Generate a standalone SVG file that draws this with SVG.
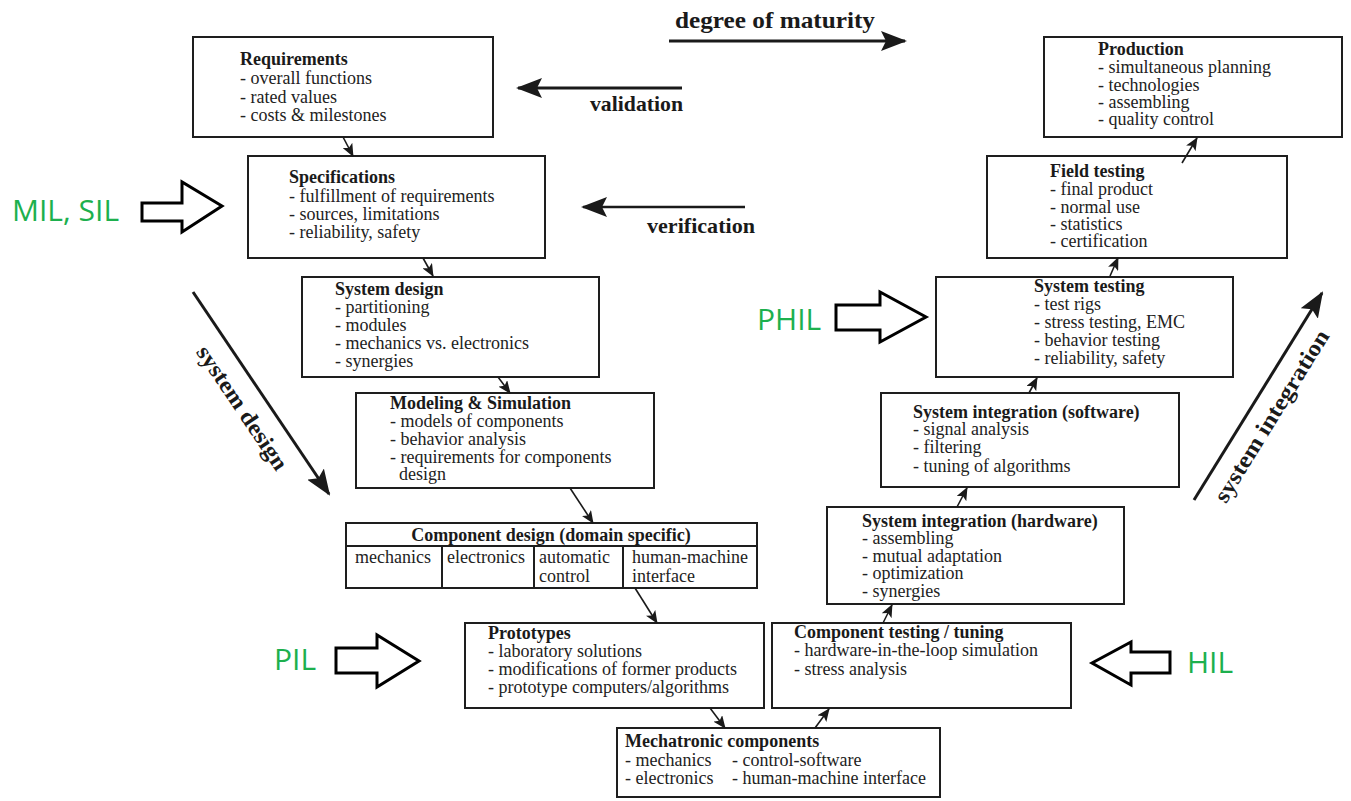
<svg xmlns="http://www.w3.org/2000/svg" width="1351" height="801" viewBox="0 0 1351 801">
  <style>
    .box { fill: #ffffff; stroke: #1e1e1e; stroke-width: 2; }
    .t { font-family: "Liberation Serif", "Times New Roman", serif; font-size: 18px; fill: #222222; }
    .tb { font-family: "Liberation Serif", "Times New Roman", serif; font-size: 18px; font-weight: bold; fill: #1a1a1a; }
    .big { font-family: "Liberation Serif", "Times New Roman", serif; font-weight: bold; fill: #1a1a1a; }
    .lvl { font-family: "Open Sans", "Noto Sans", sans-serif; font-size: 30px; fill: #1db04e; }
    .conn { stroke: #1a1a1a; stroke-width: 1.6; fill: none; marker-end: url(#head-s); }
    .flow { stroke: #1a1a1a; stroke-width: 3; fill: none; marker-end: url(#head-b); }
    .block { fill: #ffffff; stroke: #000000; stroke-width: 3; stroke-linejoin: miter; }
  </style>
  <defs>
    <marker id="head-s" markerUnits="userSpaceOnUse" markerWidth="13" markerHeight="11" refX="12" refY="5.5" orient="auto">
      <path d="M0,0 L13,5.5 L0,11 L3,5.5 z" fill="#1a1a1a"/>
    </marker>
    <marker id="head-b" markerUnits="userSpaceOnUse" markerWidth="26" markerHeight="20" refX="24" refY="10" orient="auto">
      <path d="M0,0 L26,10 L0,20 L5,10 z" fill="#1a1a1a"/>
    </marker>
  </defs>

  <!-- phase arrows and their captions -->
  <g id="phase-arrows">
    <line class="flow" x1="669" y1="41" x2="905" y2="41"/>
    <text class="big" x="675" y="28" font-size="24" textLength="200" lengthAdjust="spacingAndGlyphs">degree of maturity</text>
    <line class="flow" x1="682" y1="88" x2="518" y2="88"/>
    <text class="big" x="590" y="111" font-size="22" textLength="93" lengthAdjust="spacingAndGlyphs">validation</text>
    <line class="flow" x1="745" y1="207" x2="583" y2="207" style="stroke-width:2.5"/>
    <text class="big" x="647" y="233" font-size="22" textLength="108" lengthAdjust="spacingAndGlyphs">verification</text>
    <line class="flow" x1="193" y1="292" x2="329" y2="494"/>
    <text class="big" font-size="23" text-anchor="middle" transform="translate(236,412) rotate(56)" textLength="145" lengthAdjust="spacingAndGlyphs">system design</text>
    <line class="flow" x1="1194" y1="500" x2="1322" y2="293"/>
    <text class="big" font-size="23" text-anchor="middle" transform="translate(1278,420) rotate(-58.3)" textLength="198" lengthAdjust="spacingAndGlyphs">system integration</text>
  </g>

  <!-- test level labels with hollow block arrows -->
  <g id="mil-sil">
    <text class="lvl" x="12" y="221">MIL, SIL</text>
    <path class="block" d="M142,203 L182,203 L182,182 L222,206 L182,232 L182,221 L142,221 z"/>
  </g>
  <g id="phil">
    <text class="lvl" x="757" y="330">PHIL</text>
    <path class="block" d="M836,305 L880,305 L880,292 L926,317 L880,342 L880,330 L836,330 z"/>
  </g>
  <g id="pil">
    <text class="lvl" x="274" y="670">PIL</text>
    <path class="block" d="M336,648 L377,648 L377,635 L419,661 L377,687 L377,673 L336,673 z"/>
  </g>
  <g id="hil">
    <text class="lvl" x="1187" y="673">HIL</text>
    <path class="block" d="M1170,652 L1131,652 L1131,642 L1092,663 L1131,685 L1131,673 L1170,673 z"/>
  </g>

  <!-- left branch of the V -->
  <g id="requirements">
    <rect class="box" x="193" y="37" width="300" height="100"/>
    <text class="tb" x="240" y="65">Requirements</text>
    <text class="t" x="240" y="84">- overall functions</text>
    <text class="t" x="240" y="103">- rated values</text>
    <text class="t" x="240" y="121">- costs &amp; milestones</text>
  </g>
  <g id="specifications">
    <rect class="box" x="248" y="156" width="297" height="102"/>
    <text class="tb" x="289" y="183">Specifications</text>
    <text class="t" x="289" y="202">- fulfillment of requirements</text>
    <text class="t" x="289" y="220">- sources, limitations</text>
    <text class="t" x="289" y="238">- reliability, safety</text>
  </g>
  <g id="system-design">
    <rect class="box" x="302" y="277" width="297" height="100"/>
    <text class="tb" x="335" y="295">System design</text>
    <text class="t" x="335" y="313">- partitioning</text>
    <text class="t" x="335" y="331">- modules</text>
    <text class="t" x="335" y="349">- mechanics vs. electronics</text>
    <text class="t" x="335" y="367">- synergies</text>
  </g>
  <g id="modeling-simulation">
    <rect class="box" x="356" y="393" width="298" height="95"/>
    <text class="tb" x="390" y="409">Modeling &amp; Simulation</text>
    <text class="t" x="390" y="427">- models of components</text>
    <text class="t" x="390" y="445">- behavior analysis</text>
    <text class="t" x="390" y="463">- requirements for components</text>
    <text class="t" x="399" y="480">design</text>
  </g>
  <g id="component-design">
    <rect class="box" x="346" y="523" width="411" height="65"/>
    <line x1="346" y1="546" x2="757" y2="546" stroke="#1e1e1e" stroke-width="2"/>
    <line x1="442" y1="546" x2="442" y2="588" stroke="#1e1e1e" stroke-width="2"/>
    <line x1="534" y1="546" x2="534" y2="588" stroke="#1e1e1e" stroke-width="2"/>
    <line x1="623" y1="546" x2="623" y2="588" stroke="#1e1e1e" stroke-width="2"/>
    <text class="tb" x="551" y="541" text-anchor="middle">Component design (domain specific)</text>
    <text class="t" x="355" y="563">mechanics</text>
    <text class="t" x="447" y="563">electronics</text>
    <text class="t" x="539" y="563">automatic</text>
    <text class="t" x="539" y="582">control</text>
    <text class="t" x="632" y="563">human-machine</text>
    <text class="t" x="632" y="582">interface</text>
  </g>
  <g id="prototypes">
    <rect class="box" x="465" y="623" width="299" height="85"/>
    <text class="tb" x="488" y="639">Prototypes</text>
    <text class="t" x="488" y="657">- laboratory solutions</text>
    <text class="t" x="488" y="675">- modifications of former products</text>
    <text class="t" x="488" y="693">- prototype computers/algorithms</text>
  </g>

  <!-- base of the V -->
  <g id="mechatronic-components">
    <rect class="box" x="617" y="728" width="323" height="69"/>
    <text class="tb" x="625" y="747">Mechatronic components</text>
    <text class="t" x="625" y="766">- mechanics</text>
    <text class="t" x="732" y="766">- control-software</text>
    <text class="t" x="625" y="784">- electronics</text>
    <text class="t" x="732" y="784">- human-machine interface</text>
  </g>

  <!-- right branch of the V -->
  <g id="component-testing">
    <rect class="box" x="772" y="623" width="299" height="85"/>
    <text class="tb" x="794" y="638">Component testing / tuning</text>
    <text class="t" x="794" y="656">- hardware-in-the-loop simulation</text>
    <text class="t" x="794" y="675">- stress analysis</text>
  </g>
  <g id="system-integration-hardware">
    <rect class="box" x="827" y="507" width="297" height="97"/>
    <text class="tb" x="862" y="527">System integration (hardware)</text>
    <text class="t" x="862" y="544">- assembling</text>
    <text class="t" x="862" y="562">- mutual adaptation</text>
    <text class="t" x="862" y="579">- optimization</text>
    <text class="t" x="862" y="597">- synergies</text>
  </g>
  <g id="system-integration-software">
    <rect class="box" x="881" y="393" width="298" height="94"/>
    <text class="tb" x="913" y="418">System integration (software)</text>
    <text class="t" x="913" y="435">- signal analysis</text>
    <text class="t" x="913" y="453">- filtering</text>
    <text class="t" x="913" y="472">- tuning of algorithms</text>
  </g>
  <g id="system-testing">
    <rect class="box" x="936" y="277" width="297" height="100"/>
    <text class="tb" x="1034" y="292">System testing</text>
    <text class="t" x="1034" y="310">- test rigs</text>
    <text class="t" x="1034" y="328">- stress testing, EMC</text>
    <text class="t" x="1034" y="346">- behavior testing</text>
    <text class="t" x="1034" y="364">- reliability, safety</text>
  </g>
  <g id="field-testing">
    <rect class="box" x="987" y="156" width="300" height="102"/>
    <text class="tb" x="1050" y="177">Field testing</text>
    <text class="t" x="1050" y="195">- final product</text>
    <text class="t" x="1050" y="213">- normal use</text>
    <text class="t" x="1050" y="230">- statistics</text>
    <text class="t" x="1050" y="247">- certification</text>
  </g>
  <g id="production">
    <rect class="box" x="1044" y="37" width="298" height="100"/>
    <text class="tb" x="1098" y="55">Production</text>
    <text class="t" x="1098" y="73">- simultaneous planning</text>
    <text class="t" x="1098" y="91">- technologies</text>
    <text class="t" x="1098" y="108">- assembling</text>
    <text class="t" x="1098" y="125">- quality control</text>
  </g>

  <!-- connectors between the stages -->
  <g id="connectors">
    <line class="conn" x1="343" y1="137" x2="353" y2="156"/>
    <line class="conn" x1="423" y1="258" x2="433" y2="276"/>
    <line class="conn" x1="498" y1="377" x2="510" y2="393"/>
    <line class="conn" x1="570" y1="488" x2="593" y2="523"/>
    <line class="conn" x1="635" y1="588" x2="657" y2="623"/>
    <line class="conn" x1="710" y1="708" x2="725" y2="728"/>
    <line class="conn" x1="815" y1="728" x2="829" y2="709"/>
    <line class="conn" x1="883" y1="623" x2="892" y2="605"/>
    <line class="conn" x1="957" y1="507" x2="967" y2="488"/>
    <line class="conn" x1="1029" y1="393" x2="1037" y2="378"/>
    <line class="conn" x1="1110" y1="276" x2="1118" y2="258"/>
    <line class="conn" x1="1182" y1="163" x2="1197" y2="138"/>
  </g>
</svg>
